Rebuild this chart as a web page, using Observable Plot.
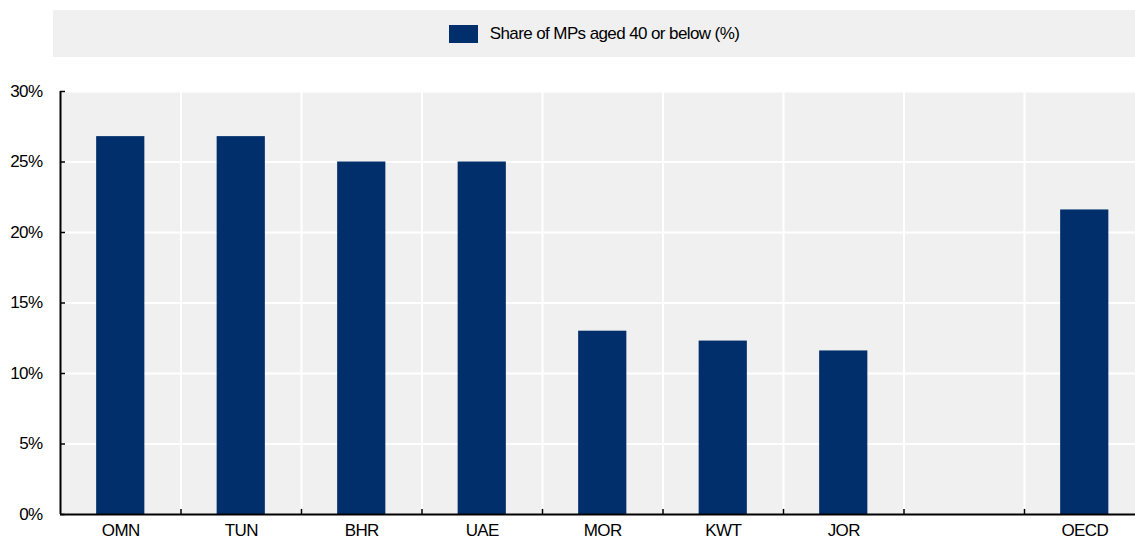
<!DOCTYPE html>
<html>
<head>
<meta charset="utf-8">
<script src="https://cdn.jsdelivr.net/npm/d3@7"></script>
<script src="https://cdn.jsdelivr.net/npm/@observablehq/plot@0.6"></script>
<style>
  html, body { margin: 0; padding: 0; background: white; overflow: hidden; }
  body { width: 1135px; height: 538px; font-family: "Liberation Sans", Arial, sans-serif; }
  #legend {
    margin: 10px 0 0 53px; width: 1082px; height: 47px; background: #f0f0f0;
    display: flex; align-items: center; justify-content: center; font-size: 17px; color: #000;
    letter-spacing: -0.6px;
  }
  #legend .sw { display: inline-block; width: 29px; height: 18px; background: #002F6C; margin-right: 12px; }
  #chart svg { display: block; overflow: visible; }
  #chart svg text { letter-spacing: -0.6px; }
</style>
</head>
<body>
<div id="legend"><span class="sw"></span><span id="legtext"></span></div>
<div id="chart"></div>
<script>
const categories = ["OMN", "TUN", "BHR", "UAE", "MOR", "KWT", "JOR", "", "OECD"];
const values = [26.8, 26.8, 25.0, 25.0, 13.0, 12.3, 11.6, null, 21.6];
const yTicks = [0, 5, 10, 15, 20, 25, 30];
const seriesName = "Share of MPs aged 40 or below (%)";
const barColor = "#002F6C";

document.getElementById("legtext").textContent = seriesName;

const rows = categories.map((c, i) => ({c, i, v: values[i]}));
const bars = rows.filter(d => d.v != null);
const n = categories.length;
const step = 120.5;
const edges = d3.range(1, n);

const chart = Plot.plot({
  width: 1135,
  height: 481,
  marginTop: 34,
  marginBottom: 24,
  marginLeft: 60,
  marginRight: 0,
  x: {type: "linear", domain: [0, n], range: [60, 60 + n * step], label: null},
  y: {domain: [0, 30], label: null},
  style: {fontFamily: "'Liberation Sans', Arial, sans-serif", fontSize: "17px", color: "#000", background: "transparent"},
  marks: [
    Plot.frame({fill: "#f0f0f0", stroke: null}),
    Plot.ruleY(yTicks.slice(1), {stroke: "white", strokeWidth: 2}),
    Plot.ruleX(edges, {stroke: "white", strokeWidth: 2}),
    Plot.rectY(bars, {x1: d => d.i + 0.3, x2: d => d.i + 0.7, y: "v", fill: barColor}),
    Plot.ruleY(yTicks, {x1: 0, x2: 5 / step, stroke: "black", strokeWidth: 1.5}),
    Plot.ruleX(edges, {y1: 0, y2: 0.36, stroke: "black", strokeWidth: 1.5}),
    Plot.ruleX([0], {y1: 0, y2: 30, stroke: "black", strokeWidth: 2}),
    Plot.ruleY([0], {stroke: "black", strokeWidth: 2}),
    Plot.axisY(yTicks, {tickSize: 0, tickPadding: 18, tickFormat: d => d + "%", fontSize: 17, fill: "#000"}),
    Plot.axisX(rows.map(d => d.i + 0.5), {tickSize: 0, tickPadding: 9, tickFormat: d => categories[Math.floor(d)], fontSize: 17, fill: "#000"})
  ]
});
document.getElementById("chart").appendChild(chart);
</script>
</body>
</html>
